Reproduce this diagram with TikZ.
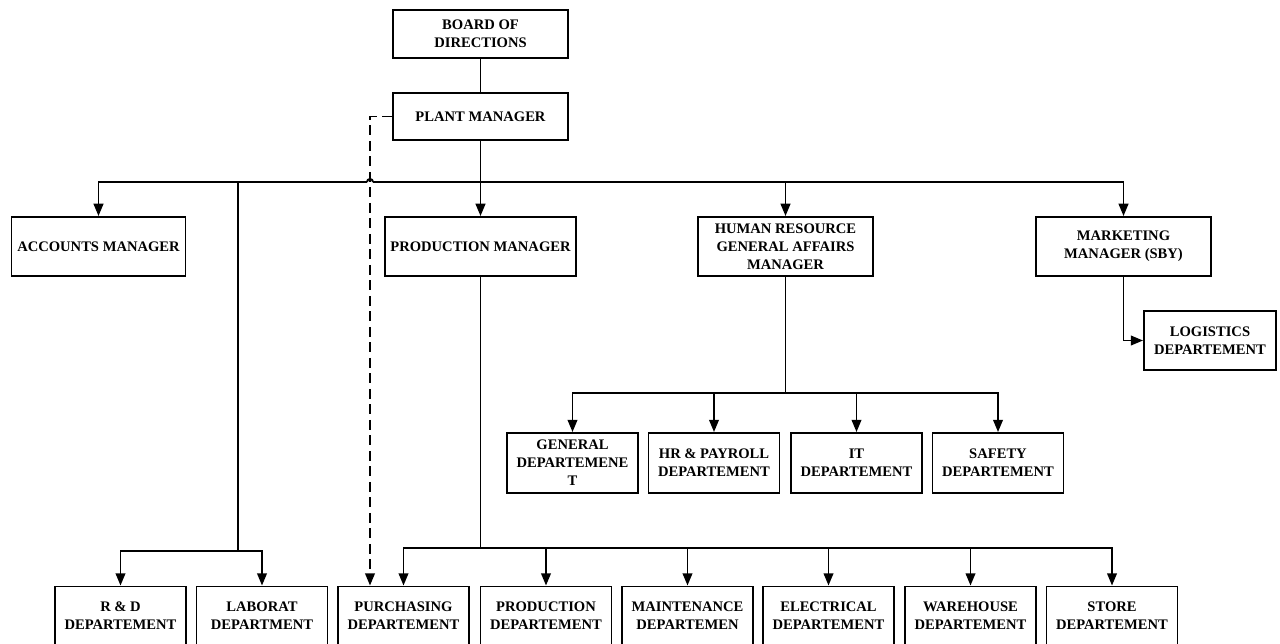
\documentclass[tikz,border=0pt]{standalone}
\usepackage{fontspec}
\setmainfont{Liberation Serif}
\usepackage{tikz}
\usetikzlibrary{arrows.meta}

\begin{document}
\begin{tikzpicture}[x=0.02cm, y=-0.02cm, line width=1.1pt,
  box/.style={draw, inner sep=0pt, align=center, text centered, font=\fontsize{8.3}{10.3}\selectfont\bfseries},
  mgr/.style={box, minimum width=3.5cm, minimum height=1.18cm},
  dept/.style={box, minimum width=2.62cm, minimum height=1.18cm},
  arr/.style={-{Triangle[length=7pt, width=5.5pt]}}]%
\useasboundingbox (0,0) rectangle (1280,643);%
% top
\node[box, minimum width=3.5cm, minimum height=0.96cm] (board) at (480.5, 34) {BOARD OF\\DIRECTIONS};%
\node[box, minimum width=3.5cm, minimum height=0.94cm] (plant) at (480.5, 116.5) {PLANT MANAGER};%
% managers
\node[mgr, minimum width=3.48cm] (acc) at (98.5, 246.5) {ACCOUNTS MANAGER};%
\node[mgr, minimum width=3.82cm] (prodm) at (480.5, 246.5) {PRODUCTION MANAGER};%
\node[mgr] (hrm) at (785.5, 246.5) {HUMAN RESOURCE\\GENERAL AFFAIRS\\MANAGER};%
\node[mgr] (mkt) at (1123.5, 246.5) {MARKETING\\MANAGER (SBY)};%
\node[dept, minimum width=2.64cm] (log) at (1210, 340.5) {LOGISTICS\\DEPARTEMENT};%
% hr departments
\node[dept, minimum height=1.2cm] (gen) at (572.5, 463) {GENERAL\\DEPARTEMENE\\T};%
\node[dept, minimum height=1.2cm] (hrp) at (714, 463) {HR \& PAYROLL\\DEPARTEMENT};%
\node[dept, minimum height=1.2cm] (itd) at (856.5, 463) {IT\\DEPARTEMENT};%
\node[dept, minimum height=1.2cm] (saf) at (998, 463) {SAFETY\\DEPARTEMENT};%
% bottom row
\node[dept] (rd) at (120.5, 616) {R \& D\\DEPARTEMENT};%
\node[dept] (lab) at (262, 616) {LABORAT\\DEPARTMENT};%
\node[dept] (pur) at (403.5, 616) {PURCHASING\\DEPARTEMENT};%
\node[dept] (prd) at (546, 616) {PRODUCTION\\DEPARTEMENT};%
\node[dept] (mnt) at (687.5, 616) {MAINTENANCE\\DEPARTEMEN};%
\node[dept] (ele) at (828.5, 616) {ELECTRICAL\\DEPARTEMENT};%
\node[dept] (war) at (970.5, 616) {WAREHOUSE\\DEPARTEMENT};%
\node[dept] (sto) at (1112, 616) {STORE\\DEPARTEMENT};%
% junctions
\coordinate (jumpL) at (367, 182);%
\coordinate (jumpR) at (373, 182);%
\coordinate (rdtop) at (238, 182);%
\coordinate (rdjoin) at (238, 551);%
\coordinate (pjoin) at (480.5, 548);%
\coordinate (hjoin) at (785.5, 393);%
\coordinate (dsh) at (370, 116.5);%
% lines
\draw (board) -- (plant);%
\draw[arr] (plant) -- (prodm);%
\draw[arr] (jumpL) -| (acc.north);%
\draw (jumpL) arc[start angle=180, end angle=0, radius=0.06cm];%
\draw[arr] (jumpR) -| (mkt.north);%
\draw[arr] (hrm.north |- jumpR) -- (hrm.north);%
\draw[arr] (mkt.south) |- (log.west);%
\draw (rdtop) -- (rdjoin);%
\draw[arr] (rdjoin) -| (rd.north);%
\draw[arr] (rdjoin) -| (lab.north);%
\draw (hrm.south) -- (hjoin);%
\draw[arr] (hjoin) -| (gen.north);%
\draw[arr] (hjoin) -| (saf.north);%
\foreach \n in {hrp, itd} {\draw[arr] (\n.north |- hjoin) -- (\n.north);}%
\draw (prodm.south) -- (pjoin);%
\draw[arr] (pjoin) -| (pur.north);%
\draw[arr] (pjoin) -| (sto.north);%
\foreach \n in {prd, mnt, ele, war} {\draw[arr] (\n.north |- pjoin) -- (\n.north);}%
\draw[arr, dash pattern=on 0.2cm off 0.11cm] (plant.west) -- (dsh) -- (dsh |- pur.north);%
\end{tikzpicture}
\end{document}
